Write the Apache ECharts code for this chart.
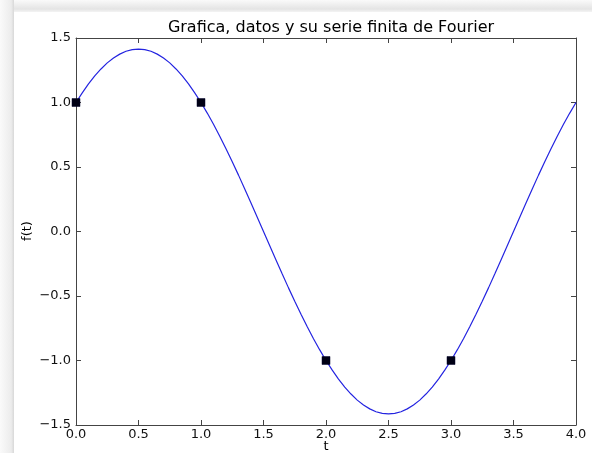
<!DOCTYPE html>
<html><head><meta charset="utf-8">
<script src="https://cdn.jsdelivr.net/npm/echarts@6/dist/echarts.min.js"></script>
<style>html,body{margin:0;padding:0;background:#fff;overflow:hidden;}#c{width:592px;height:453px;}</style>
</head><body><div id="c"></div>
<script>
// Values (t every 0.05)
const tValues = [0.00,0.05,0.10,0.15,0.20,0.25,0.30,0.35,0.40,0.45,0.50,0.55,0.60,0.65,0.70,0.75,0.80,0.85,0.90,0.95,
  1.00,1.05,1.10,1.15,1.20,1.25,1.30,1.35,1.40,1.45,1.50,1.55,1.60,1.65,1.70,1.75,1.80,1.85,1.90,1.95,
  2.00,2.05,2.10,2.15,2.20,2.25,2.30,2.35,2.40,2.45,2.50,2.55,2.60,2.65,2.70,2.75,2.80,2.85,2.90,2.95,
  3.00,3.05,3.10,3.15,3.20,3.25,3.30,3.35,3.40,3.45,3.50,3.55,3.60,3.65,3.70,3.75,3.80,3.85,3.90,3.95,4.00];
const fValues = [1.000,1.075,1.144,1.206,1.260,1.307,1.345,1.375,1.397,1.410,1.414,1.410,1.397,1.375,1.345,1.307,1.260,1.206,1.144,1.075,
  1.000,0.918,0.831,0.739,0.642,0.541,0.437,0.330,0.221,0.111,0.000,-0.111,-0.221,-0.330,-0.437,-0.541,-0.642,-0.739,-0.831,-0.918,
  -1.000,-1.075,-1.144,-1.206,-1.260,-1.307,-1.345,-1.375,-1.397,-1.410,-1.414,-1.410,-1.397,-1.375,-1.345,-1.307,-1.260,-1.206,-1.144,-1.075,
  -1.000,-0.918,-0.831,-0.739,-0.642,-0.541,-0.437,-0.330,-0.221,-0.111,0.000,0.111,0.221,0.330,0.437,0.541,0.642,0.739,0.831,0.918,1.000];
// Data points (markers)
const dataT = [0, 1, 2, 3];
const dataF = [1, 1, -1, -1];
const titleText = 'Grafica, datos y su serie finita de Fourier';
const xName = 't';
const yName = 'f(t)';
const xTicks = [0, 0.5, 1, 1.5, 2, 2.5, 3, 3.5, 4];
const yTicks = [-1.5, -1, -0.5, 0, 0.5, 1, 1.5];

const fmt = v => (v < 0 ? '\u2212' : '') + Math.abs(v).toFixed(1);
const FONT = 'DejaVu Sans';
const axisCol = '#444';

const chart = echarts.init(document.getElementById('c'), null, {renderer: 'canvas'});
const curve = tValues.map((t, i) => [t, fValues[i]]);
const pts = dataT.map((t, i) => [t, dataF[i]]);

function mkX(show) {
  return {
    type: 'value', min: xTicks[0], max: xTicks[xTicks.length - 1], interval: 0.5,
    position: show ? 'bottom' : 'top',
    axisLine: {show: true, onZero: false, lineStyle: {color: axisCol, width: 1}},
    axisTick: {show: true, inside: true, length: 5, lineStyle: {color: axisCol}},
    axisLabel: {show: show, fontFamily: FONT, fontSize: 13, color: '#111', margin: 3, formatter: fmt},
    splitLine: {show: false}
  };
}
function mkY(show) {
  return {
    type: 'value', min: yTicks[0], max: yTicks[yTicks.length - 1], interval: 0.5,
    position: show ? 'left' : 'right',
    axisLine: {show: true, onZero: false, lineStyle: {color: axisCol, width: 1}},
    axisTick: {show: true, inside: true, length: 5, lineStyle: {color: axisCol}},
    axisLabel: {show: show, fontFamily: FONT, fontSize: 13, color: '#111', margin: 5, formatter: fmt},
    splitLine: {show: false}
  };
}

chart.setOption({
  animation: false,
  backgroundColor: '#fff',
  title: {
    text: titleText, left: 326, top: 15, textAlign: 'center',
    textStyle: {fontFamily: FONT, fontSize: 16, fontWeight: 'normal', color: '#000'}
  },
  grid: {left: 76, right: 16, top: 38, bottom: 28, containLabel: false, outerBoundsMode: 'none'},
  xAxis: [mkX(true), mkX(false)],
  yAxis: [mkY(true), mkY(false)],
  graphic: [
    {type: 'rect', shape: {x: 0, y: 0, width: 592, height: 12}, z: -1, silent: true,
     style: {fill: new echarts.graphic.LinearGradient(0, 0, 0, 1, [{offset: 0, color: '#fafafa'}, {offset: 0.75, color: '#e4e4e4'}, {offset: 1, color: '#f4f4f4'}])}},
    {type: 'rect', shape: {x: 0, y: 0, width: 14, height: 453}, z: -1, silent: true,
     style: {fill: new echarts.graphic.LinearGradient(0, 0, 1, 0, [{offset: 0, color: '#fafafa'}, {offset: 0.8, color: '#ececec'}, {offset: 1, color: '#d8d8d8'}])}},
    {type: 'text', x: 326, y: 447, silent: true,
     style: {text: xName, align: 'center', verticalAlign: 'middle', font: '13px "DejaVu Sans"', fill: '#000'}},
    {type: 'text', x: 28, y: 231, rotation: Math.PI / 2, silent: true,
     style: {text: yName, align: 'center', verticalAlign: 'middle', font: '13px "DejaVu Sans"', fill: '#000'}}
  ],
  series: [
    {type: 'line', xAxisIndex: 0, yAxisIndex: 0, data: curve, smooth: false, showSymbol: false,
     lineStyle: {color: '#2424e0', width: 1.2}, z: 2},
    {type: 'scatter', xAxisIndex: 0, yAxisIndex: 0, data: pts, symbol: 'rect', symbolSize: 8,
     itemStyle: {color: '#000014', opacity: 1, borderColor: '#00002a', borderWidth: 0.5}, z: 3, clip: false}
  ]
});
</script></body></html>
